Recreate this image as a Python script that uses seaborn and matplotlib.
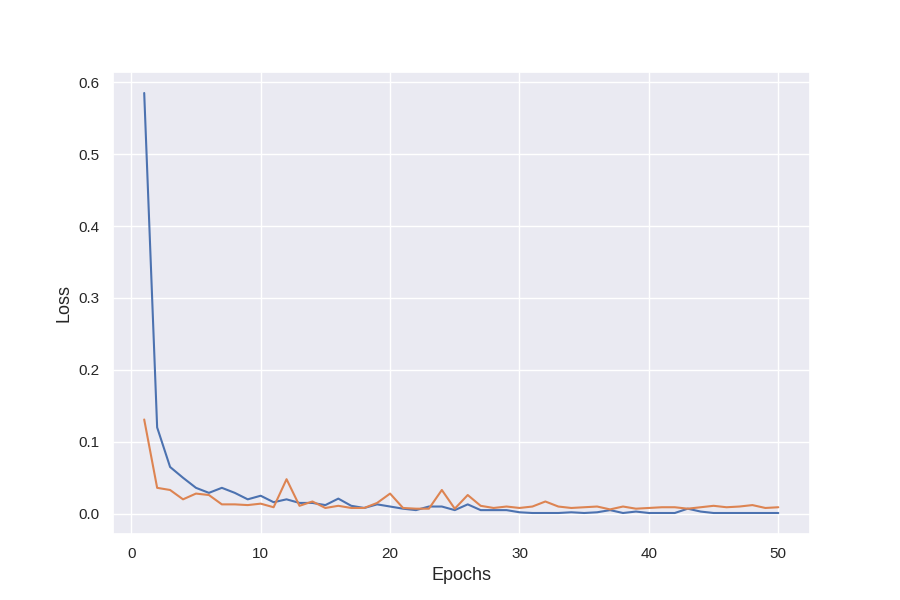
import matplotlib
matplotlib.use("Agg")
import matplotlib.pyplot as plt
import seaborn as sns

sns.set_theme(style="darkgrid")
plt.rcParams['font.family'] = ['Liberation Sans', 'DejaVu Sans']

epochs = list(range(1, 51))
train_loss = [0.585, 0.12, 0.065, 0.05, 0.036, 0.029, 0.036, 0.029, 0.02, 0.025,
              0.016, 0.02, 0.015, 0.015, 0.012, 0.021, 0.011, 0.008, 0.013, 0.01,
              0.007, 0.005, 0.01, 0.01, 0.005, 0.013, 0.005, 0.005, 0.005, 0.002,
              0.001, 0.001, 0.001, 0.002, 0.001, 0.002, 0.005, 0.001, 0.003, 0.001,
              0.001, 0.001, 0.007, 0.003, 0.001, 0.001, 0.001, 0.001, 0.001, 0.001]
val_loss = [0.131, 0.036, 0.033, 0.02, 0.028, 0.026, 0.013, 0.013, 0.012, 0.014,
            0.009, 0.048, 0.011, 0.017, 0.008, 0.011, 0.008, 0.008, 0.015, 0.028,
            0.008, 0.007, 0.007, 0.033, 0.007, 0.026, 0.011, 0.008, 0.01, 0.008,
            0.01, 0.017, 0.01, 0.008, 0.009, 0.01, 0.006, 0.01, 0.007, 0.008,
            0.009, 0.009, 0.007, 0.009, 0.011, 0.009, 0.01, 0.012, 0.008, 0.009]

fig, ax = plt.subplots(figsize=(9, 6), dpi=100)
sns.lineplot(x=epochs, y=train_loss, ax=ax)
sns.lineplot(x=epochs, y=val_loss, ax=ax)
ax.set_xlabel("Epochs", fontsize=13)
ax.set_ylabel("Loss", fontsize=13)
fig.savefig("out.png", dpi=100)
